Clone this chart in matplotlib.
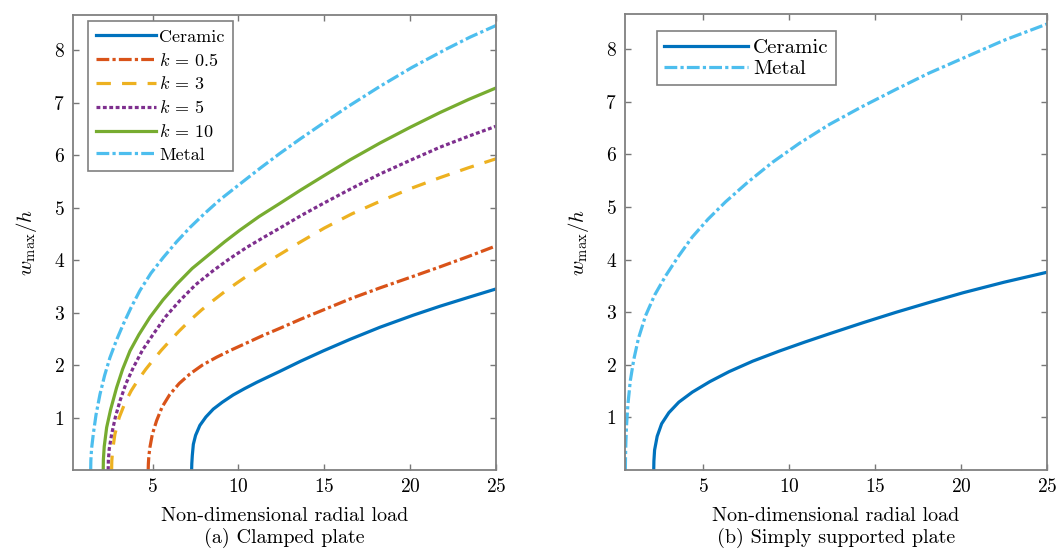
import matplotlib
matplotlib.use("Agg")
import matplotlib.pyplot as plt

plt.rcParams['font.family'] = 'serif'
plt.rcParams['font.serif'] = ['cmr10', 'DejaVu Serif']
plt.rcParams['mathtext.fontset'] = 'cm'
plt.rcParams['axes.formatter.use_mathtext'] = True

# (a) clamped plate
metal_a_x = [1.39, 1.40, 1.44, 1.54, 1.70, 1.93, 2.20, 2.51, 2.90, 3.29, 3.75, 4.26, 4.90, 5.62, 6.40,
             7.17, 8.00, 8.92, 10.28, 11.30, 12.40, 13.60, 14.94, 16.50, 18.24, 20.10, 22.10, 23.50, 25.0]
metal_a_y = [0.00, 0.18, 0.40, 0.68, 1.05, 1.44, 1.80, 2.14, 2.48, 2.78, 3.10, 3.42, 3.75, 4.05, 4.35,
             4.62, 4.88, 5.15, 5.50, 5.76, 6.03, 6.31, 6.61, 6.95, 7.31, 7.67, 8.02, 8.25, 8.47]

k10_x = [2.12, 2.13, 2.18, 2.32, 2.55, 2.90, 3.25, 3.68, 4.20, 4.84, 5.60, 6.40, 7.30, 8.34, 9.20,
         10.08, 11.20, 12.41, 13.60, 14.94, 16.50, 18.24, 20.00, 21.73, 23.40, 25.0]
k10_y = [0.00, 0.20, 0.45, 0.81, 1.15, 1.57, 1.92, 2.27, 2.58, 2.91, 3.24, 3.54, 3.84, 4.12, 4.35,
         4.57, 4.83, 5.08, 5.33, 5.60, 5.91, 6.23, 6.53, 6.81, 7.06, 7.28]

k5_x = [2.41, 2.42, 2.47, 2.61, 2.83, 3.10, 3.45, 3.87, 4.40, 5.04, 5.75, 6.59, 7.50, 8.53, 9.50,
        10.47, 11.40, 12.41, 13.60, 14.94, 16.50, 18.24, 20.00, 21.73, 23.40, 25.0]
k5_y = [0.00, 0.18, 0.40, 0.68, 1.01, 1.32, 1.65, 1.95, 2.28, 2.59, 2.92, 3.23, 3.53, 3.80, 4.03,
        4.24, 4.42, 4.61, 4.84, 5.08, 5.35, 5.64, 5.90, 6.15, 6.36, 6.55]

k3_x = [2.61, 2.62, 2.67, 2.80, 3.05, 3.39, 3.75, 4.16, 4.60, 5.04, 5.50, 6.00, 6.55, 7.17, 7.85,
        8.53, 9.20, 9.89, 11.00, 12.22, 13.58, 15.00, 16.60, 18.24, 20.00, 21.73, 23.40, 25.0]
k3_y = [0.00, 0.17, 0.38, 0.68, 1.00, 1.28, 1.51, 1.72, 1.92, 2.10, 2.28, 2.46, 2.65, 2.85, 3.05,
        3.23, 3.40, 3.56, 3.81, 4.07, 4.34, 4.61, 4.88, 5.12, 5.36, 5.57, 5.76, 5.93]

k05_x = [4.74, 4.75, 4.78, 4.84, 4.98, 5.23, 5.55, 6.00, 6.55, 7.17, 7.90, 8.73, 9.60, 10.47, 11.40,
         12.41, 13.60, 14.94, 16.50, 18.24, 20.00, 21.73, 23.40, 25.0]
k05_y = [0.00, 0.12, 0.27, 0.43, 0.68, 0.94, 1.20, 1.44, 1.65, 1.83, 2.00, 2.15, 2.29, 2.42, 2.56,
         2.70, 2.87, 3.05, 3.26, 3.47, 3.67, 3.87, 4.07, 4.27]

ceramic_a_x = [7.27, 7.28, 7.31, 7.37, 7.50, 7.75, 8.10, 8.53, 9.05, 9.69, 10.35, 11.06, 11.70, 12.41,
               13.60, 14.94, 16.50, 18.24, 20.18, 21.73, 23.40, 25.0]
ceramic_a_y = [0.00, 0.12, 0.28, 0.49, 0.66, 0.85, 1.01, 1.16, 1.29, 1.43, 1.55, 1.67, 1.77, 1.88,
               2.07, 2.27, 2.49, 2.72, 2.95, 3.12, 3.29, 3.45]

# (b) simply supported plate
metal_b_x = [0.49, 0.50, 0.52, 0.56, 0.64, 0.78, 0.98, 1.25, 1.66, 2.20, 2.83, 3.55, 4.38, 5.30, 6.32,
             7.60, 9.04, 10.60, 12.35, 14.20, 16.24, 18.10, 20.12, 22.50, 25.0]
metal_b_y = [0.00, 0.25, 0.52, 0.85, 1.25, 1.70, 2.10, 2.50, 2.93, 3.33, 3.69, 4.05, 4.43, 4.77, 5.10,
             5.47, 5.85, 6.21, 6.57, 6.90, 7.24, 7.54, 7.83, 8.17, 8.48]

ceramic_b_x = [2.14, 2.15, 2.19, 2.34, 2.60, 3.02, 3.60, 4.38, 5.40, 6.52, 7.90, 9.43, 10.90, 12.35,
               14.30, 16.24, 18.20, 20.12, 22.50, 25.0]
ceramic_b_y = [0.00, 0.17, 0.38, 0.64, 0.88, 1.09, 1.29, 1.48, 1.68, 1.87, 2.07, 2.26, 2.43, 2.59,
               2.80, 3.00, 3.19, 3.37, 3.57, 3.76]

xticks = [5, 10, 15, 20, 25]
yticks = [1, 2, 3, 4, 5, 6, 7, 8]

blue = '#0072BD'
orange = '#D95319'
yellow = '#EDB120'
purple = '#7E2F8E'
green = '#77AC30'
cyan = '#4DBEEE'
lw = 2.3

fig = plt.figure(figsize=(10.56, 5.5), dpi=100)
ax1 = fig.add_axes([73/1056, 80/550, 423/1056, 455/550])
ax2 = fig.add_axes([625/1056, 80/550, 422/1056, 456/550])

ax1.plot(ceramic_a_x, ceramic_a_y, color=blue, lw=lw, label='Ceramic')
ax1.plot(k05_x, k05_y, color=orange, lw=lw, dashes=(4, 1, 1, 1), label='$k$ = 0.5')
ax1.plot(k3_x, k3_y, color=yellow, lw=lw, dashes=(4.5, 3.5), label='$k$ = 3')
ax1.plot(k5_x, k5_y, color=purple, lw=lw, dashes=(1.2, 0.8), label='$k$ = 5')
ax1.plot(k10_x, k10_y, color=green, lw=lw, label='$k$ = 10')
ax1.plot(metal_a_x, metal_a_y, color=cyan, lw=lw, dashes=(4, 1, 1, 1), label='Metal')
ax1.set_xlim(0.36, 25)

ax2.plot(ceramic_b_x, ceramic_b_y, color=blue, lw=lw, label='Ceramic')
ax2.plot(metal_b_x, metal_b_y, color=cyan, lw=lw, dashes=(4, 1, 1, 1), label='Metal')
ax2.set_xlim(0.47, 25)

for ax in (ax1, ax2):
    ax.set_ylim(0, 8.67)
    ax.set_xticks(xticks)
    ax.set_yticks(yticks)
    ax.tick_params(direction='in', top=True, right=True, length=4, width=1,
                   color='#777777', labelsize=14, pad=6)
    for s in ax.spines.values():
        s.set_color('#808080')
        s.set_linewidth(1.3)
    ax.set_ylabel(r'$w_{\max}/h$', fontsize=15, labelpad=10)
    ax.set_xlabel('Non-dimensional radial load', fontsize=14.5, labelpad=8)

fig.text((73 + 496) / 2 / 1056, 1 - 538 / 550, '(a) Clamped plate', fontsize=14.5,
         ha='center', va='center')
fig.text((625 + 1047) / 2 / 1056, 1 - 538 / 550, '(b) Simply supported plate', fontsize=14.5,
         ha='center', va='center')

leg1 = ax1.legend(loc='upper left', bbox_to_anchor=(88/1056, 1 - 21/550),
                  bbox_transform=fig.transFigure, borderaxespad=0, fontsize=13, handlelength=3.3,
                  handletextpad=0.2, labelspacing=0.38, borderpad=0.45,
                  fancybox=False, framealpha=1, edgecolor='#808080')
leg2 = ax2.legend(loc='upper left', bbox_to_anchor=(657/1056, 1 - 31/550),
                  bbox_transform=fig.transFigure, borderaxespad=0, fontsize=15, handlelength=4.0,
                  handletextpad=0.25, labelspacing=0.12, borderpad=0.35,
                  fancybox=False, framealpha=1, edgecolor='#808080')
for leg in (leg1, leg2):
    leg.get_frame().set_linewidth(1.2)

fig.savefig('out.png', dpi=100)
